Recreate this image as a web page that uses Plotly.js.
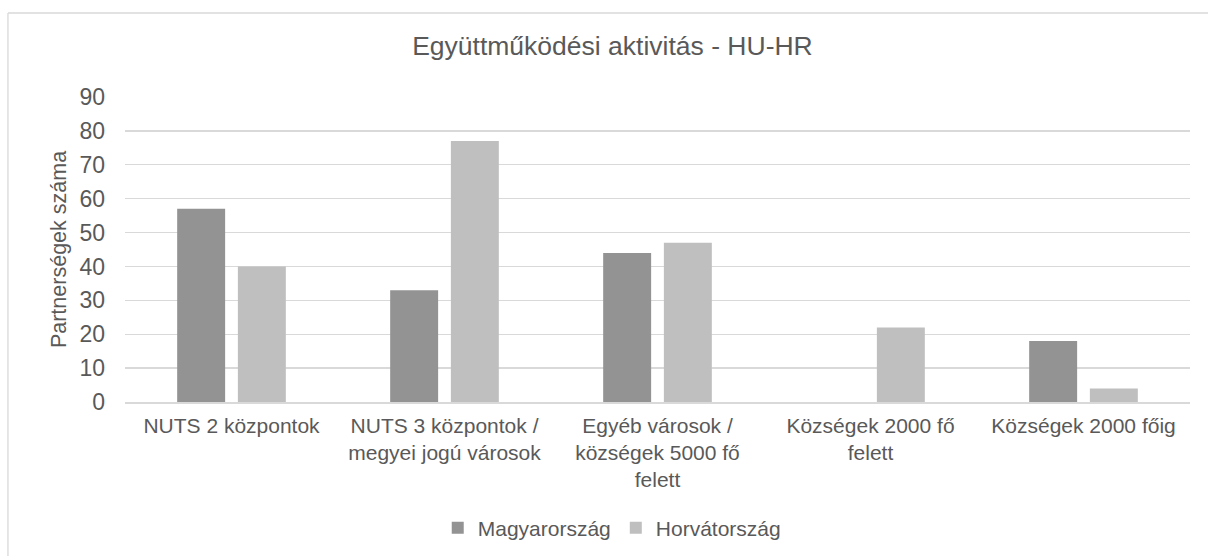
<!DOCTYPE html>
<html>
<head>
<meta charset="utf-8">
<script src="https://cdn.plot.ly/plotly-3.0.1.min.js"></script>
<style>
  html, body { margin: 0; padding: 0; background: #ffffff; }
  #chart { width: 1208px; height: 556px; }
</style>
</head>
<body>
<div id="chart"></div>
<script>
const categories = [
  "NUTS 2 központok",
  "NUTS 3 központok /<br>megyei jogú városok",
  "Egyéb városok /<br>községek 5000 fő<br>felett",
  "Községek 2000 fő<br>felett",
  "Községek 2000 főig"
];
const seriesNames = ["Magyarország", "Horvátország"];
const magyarorszag = [57, 33, 44, 0, 18];
const horvatorszag = [40, 77, 47, 22, 4];
const yTicks = [0, 10, 20, 30, 40, 50, 60, 70, 80, 90];

const textColor = "#595959";
const gridColor = "#d9d9d9";
const fontFamily = "Arial, 'Liberation Sans', sans-serif";

const traces = [
  {
    type: "bar",
    name: seriesNames[0],
    x: categories,
    y: magyarorszag,
    marker: { color: "#939393", line: { width: 0 } },
    hoverinfo: "x+y+name"
  },
  {
    type: "bar",
    name: seriesNames[1],
    x: categories,
    y: horvatorszag,
    marker: { color: "#bfbfbf", line: { width: 0 } },
    hoverinfo: "x+y+name"
  }
];

const layout = {
  width: 1208,
  height: 556,
  margin: { l: 125, r: 18, t: 97, b: 154, pad: 0, autoexpand: false },
  paper_bgcolor: "#ffffff",
  plot_bgcolor: "#ffffff",
  font: { family: fontFamily, color: textColor, size: 21 },
  title: {
    text: "Együttműködési aktivitás - HU-HR",
    font: { family: fontFamily, size: 26.5, color: textColor },
    x: 0.507, xref: "container", xanchor: "center",
    y: 0.918, yref: "container", yanchor: "middle"
  },
  barmode: "group",
  bargap: 0.43,
  bargroupgap: 0.21,
  showlegend: true,
  legend: {
    orientation: "h",
    x: 0.5064, xref: "container", xanchor: "center",
    y: 0.05, yref: "container", yanchor: "middle",
    font: { family: fontFamily, size: 21, color: textColor },
    itemwidth: 30,
    traceorder: "normal"
  },
  xaxis: {
    type: "category",
    showgrid: false,
    showline: true,
    linecolor: gridColor,
    linewidth: 1.5,
    ticks: "",
    tickfont: { family: fontFamily, size: 21, color: textColor },
    ticklabelstandoff: 4,
    fixedrange: true
  },
  yaxis: {
    range: [0, 90],
    tickvals: yTicks,
    ticktext: yTicks.map(String),
    showgrid: true,
    gridcolor: gridColor,
    gridwidth: 1.3,
    zeroline: false,
    showline: false,
    ticks: "",
    tickfont: { family: fontFamily, size: 23, color: textColor },
    ticklabelstandoff: 19,
    title: {
      text: "Partnerségek száma",
      font: { family: fontFamily, size: 21.5, color: textColor },
      standoff: 6
    },
    automargin: false,
    fixedrange: true
  },
  shapes: [
    {
      type: "line",
      xref: "paper", yref: "paper",
      x0: -0.1099, x1: 1.06,
      y0: 1.2754, y1: 1.2754,
      line: { color: gridColor, width: 1.3 },
      layer: "below"
    },
    {
      type: "line",
      xref: "paper", yref: "paper",
      x0: -0.1099, x1: -0.1099,
      y0: -0.6, y1: 1.2754,
      line: { color: gridColor, width: 1.3 },
      layer: "below"
    }
  ]
};

Plotly.newPlot("chart", traces, layout, { displayModeBar: false, staticPlot: true });
</script>
</body>
</html>
